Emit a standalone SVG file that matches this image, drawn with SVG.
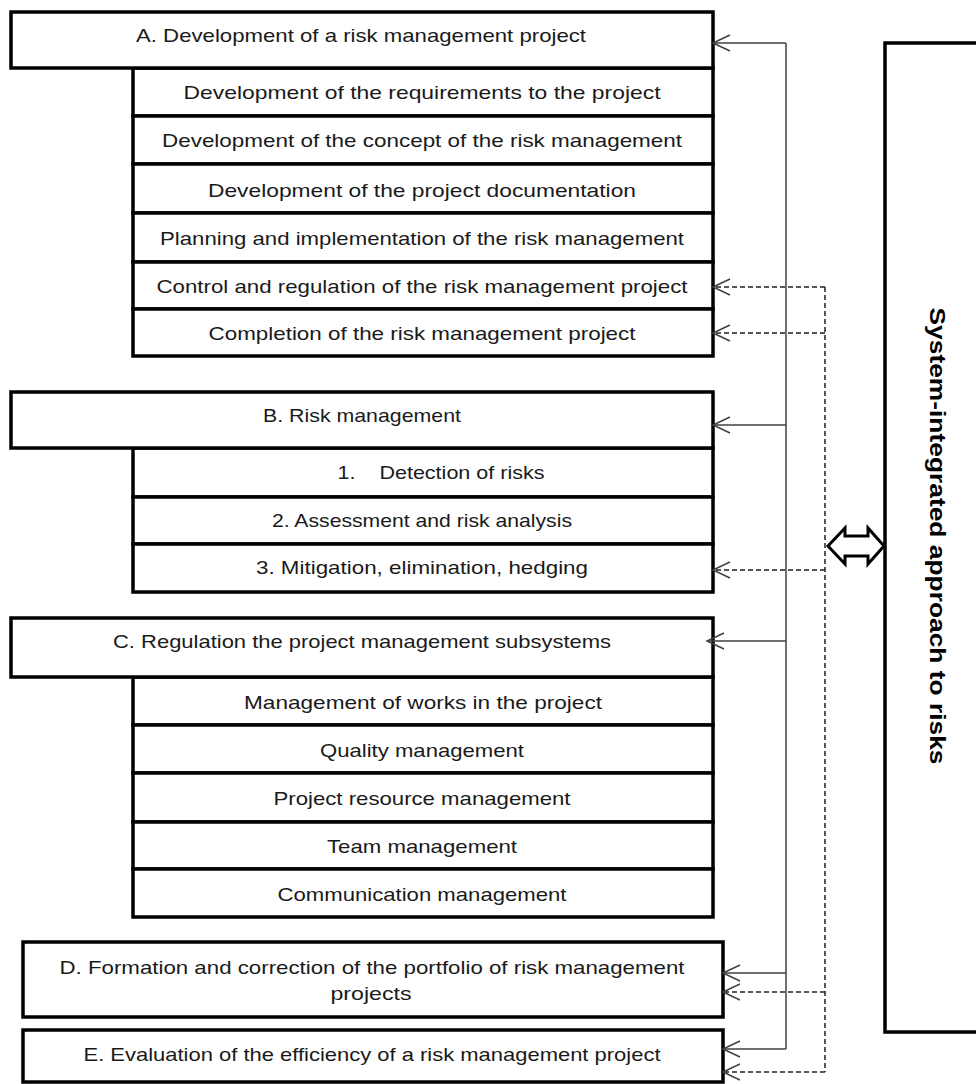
<svg xmlns="http://www.w3.org/2000/svg" width="976" height="1084" viewBox="0 0 976 1084">
<style>
  .box { fill: #ffffff; stroke: #000000; stroke-width: 3.5; }
  .t { font-family: "Liberation Sans", Arial, sans-serif; font-size: 19px; fill: #1a1a1a; text-anchor: middle; }
  .v { font-family: "Liberation Sans", Arial, sans-serif; font-size: 22px; font-weight: bold; fill: #000000; text-anchor: middle; }
  .solid { fill: none; stroke: #404040; stroke-width: 1.5; }
  .dash { fill: none; stroke: #202020; stroke-width: 1.5; stroke-dasharray: 5 3; }
</style>
<defs>
  <marker id="chev" markerUnits="userSpaceOnUse" markerWidth="24" markerHeight="24" refX="0" refY="0" viewBox="-20 -12 24 24" orient="auto" overflow="visible">
    <path d="M-17,-8 L0,0 L-17,8" fill="none" stroke="#404040" stroke-width="1.5"/>
  </marker>
</defs>
<rect width="976" height="1084" fill="#ffffff"/>

<g id="nodeA">
  <rect class="box" x="133" y="68" width="580" height="48"/>
  <rect class="box" x="133" y="116" width="580" height="48"/>
  <rect class="box" x="133" y="164" width="580" height="49"/>
  <rect class="box" x="133" y="213" width="580" height="49"/>
  <rect class="box" x="133" y="262" width="580" height="47"/>
  <rect class="box" x="133" y="309" width="580" height="47"/>
  <rect class="box" x="11" y="12" width="702" height="56"/>
  <text class="t" x="361" y="42" textLength="450" lengthAdjust="spacingAndGlyphs">A. Development of a risk management project</text>
  <text class="t" x="422" y="99" textLength="477" lengthAdjust="spacingAndGlyphs">Development of the requirements to the project</text>
  <text class="t" x="422" y="147" textLength="520" lengthAdjust="spacingAndGlyphs">Development of the concept of the risk management</text>
  <text class="t" x="422" y="197" textLength="428" lengthAdjust="spacingAndGlyphs">Development of the project documentation</text>
  <text class="t" x="422" y="245" textLength="524" lengthAdjust="spacingAndGlyphs">Planning and implementation of the risk management</text>
  <text class="t" x="422" y="293" textLength="531" lengthAdjust="spacingAndGlyphs">Control and regulation of the risk management project</text>
  <text class="t" x="422" y="340" textLength="427" lengthAdjust="spacingAndGlyphs">Completion of the risk management project</text>
</g>

<g id="nodeB">
  <rect class="box" x="133" y="448" width="580" height="49"/>
  <rect class="box" x="133" y="497" width="580" height="47"/>
  <rect class="box" x="133" y="544" width="580" height="48"/>
  <rect class="box" x="11" y="392" width="702" height="56"/>
  <text class="t" x="362" y="422" textLength="198" lengthAdjust="spacingAndGlyphs">B. Risk management</text>
  <text class="t" x="441" y="479" textLength="207" lengthAdjust="spacingAndGlyphs" xml:space="preserve">1.    Detection of risks</text>
  <text class="t" x="422" y="527" textLength="300" lengthAdjust="spacingAndGlyphs">2. Assessment and risk analysis</text>
  <text class="t" x="422" y="574" textLength="332" lengthAdjust="spacingAndGlyphs">3. Mitigation, elimination, hedging</text>
</g>

<g id="nodeC">
  <rect class="box" x="133" y="677" width="580" height="48"/>
  <rect class="box" x="133" y="725" width="580" height="48"/>
  <rect class="box" x="133" y="773" width="580" height="49"/>
  <rect class="box" x="133" y="822" width="580" height="47"/>
  <rect class="box" x="133" y="869" width="580" height="48"/>
  <rect class="box" x="11" y="618" width="702" height="59"/>
  <text class="t" x="362" y="648" textLength="498" lengthAdjust="spacingAndGlyphs">C. Regulation the project management subsystems</text>
  <text class="t" x="423" y="709" textLength="358" lengthAdjust="spacingAndGlyphs">Management of works in the project</text>
  <text class="t" x="422" y="757" textLength="204" lengthAdjust="spacingAndGlyphs">Quality management</text>
  <text class="t" x="422" y="805" textLength="297" lengthAdjust="spacingAndGlyphs">Project resource management</text>
  <text class="t" x="422" y="853" textLength="190" lengthAdjust="spacingAndGlyphs">Team management</text>
  <text class="t" x="422" y="901" textLength="289" lengthAdjust="spacingAndGlyphs">Communication management</text>
</g>

<g id="nodeD">
  <rect class="box" x="23" y="942" width="700" height="75"/>
  <text class="t" x="372" y="974" textLength="625" lengthAdjust="spacingAndGlyphs">D. Formation and correction of the portfolio of risk management</text>
  <text class="t" x="371" y="1000" textLength="81" lengthAdjust="spacingAndGlyphs">projects</text>
</g>

<g id="nodeE">
  <rect class="box" x="23" y="1030" width="700" height="52"/>
  <text class="t" x="372" y="1061" textLength="577" lengthAdjust="spacingAndGlyphs">E. Evaluation of the efficiency of a risk management project</text>
</g>

<g id="nodeSystem">
  <rect class="box" x="885" y="43" width="120" height="989"/>
  <text class="v" transform="translate(938,536) rotate(90)" x="0" y="8" textLength="457" lengthAdjust="spacingAndGlyphs">System-integrated approach to risks</text>
</g>

<g id="connectors">
  <path class="solid" d="M786,43 V1049"/>
  <path class="dash" d="M825,287 V1072"/>
  <path class="solid" d="M786,43 H713" marker-end="url(#chev)"/>
  <path class="solid" d="M786,425 H713" marker-end="url(#chev)"/>
  <path class="solid" d="M786,641 H707" marker-end="url(#chev)"/>
  <path class="solid" d="M786,973 H723" marker-end="url(#chev)"/>
  <path class="solid" d="M786,1049 H723" marker-end="url(#chev)"/>
  <path class="dash" d="M825,287 H713" marker-end="url(#chev)"/>
  <path class="dash" d="M825,333 H713" marker-end="url(#chev)"/>
  <path class="dash" d="M825,570 H713" marker-end="url(#chev)"/>
  <path class="dash" d="M825,992 H723" marker-end="url(#chev)"/>
  <path class="dash" d="M825,1072 H723" marker-end="url(#chev)"/>
  <polygon points="828,546 845,528 845,536 868,536 868,528 884,546 868,564 868,556 845,556 845,564" fill="#ffffff" stroke="#000000" stroke-width="3" stroke-linejoin="miter"/>
</g>
</svg>
